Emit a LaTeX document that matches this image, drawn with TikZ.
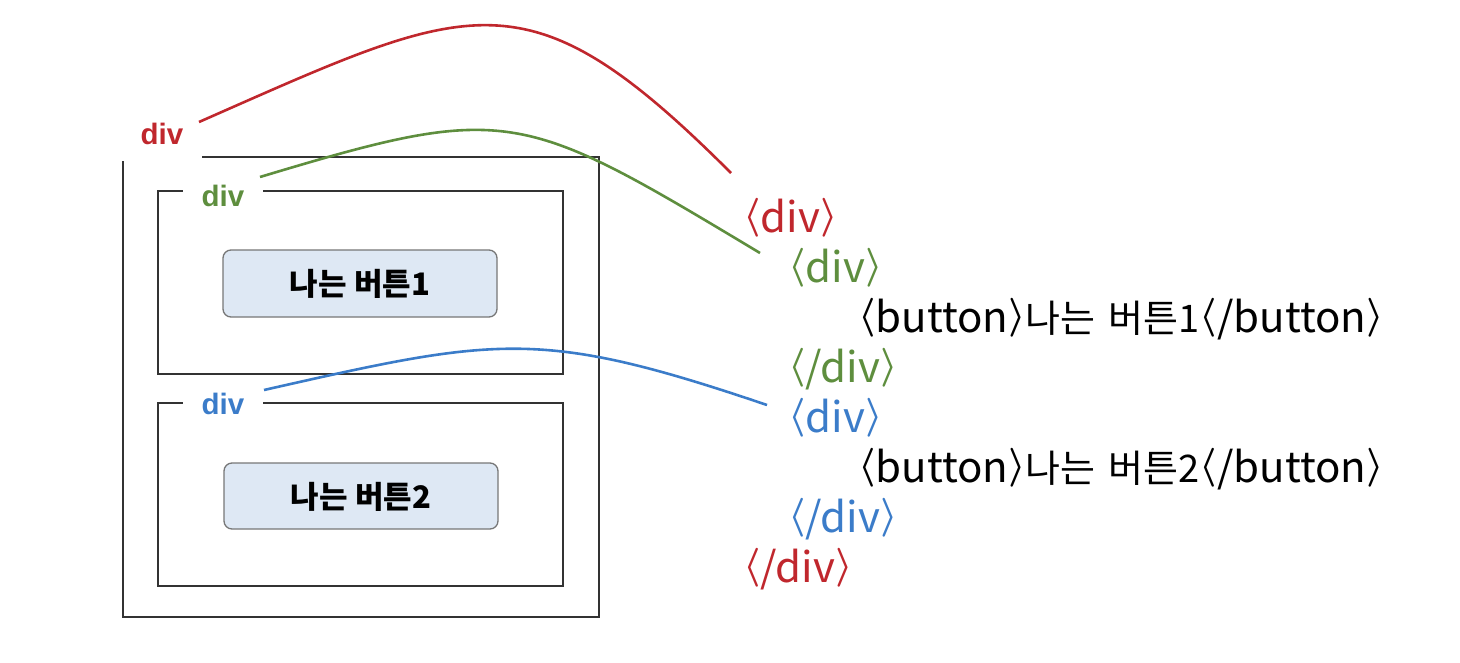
\documentclass[tikz,border=0pt]{standalone}
\usepackage{fontspec}
\usepackage{graphicx}
\setmainfont{Noto Sans CJK KR}
\newfontfamily\labfont{Liberation Sans}
\newfontfamily\krfont{Noto Sans CJK KR}
\newcommand{\myla}{\raisebox{4.75pt}{\resizebox*{17.5pt}{39pt}{\boldmath$\langle$}}}
\newcommand{\myra}{\raisebox{4.75pt}{\resizebox*{17.5pt}{39pt}{\boldmath$\rangle$}}}
\newcommand{\kt}[1]{{\fontsize{38}{41}\selectfont #1}}
\definecolor{cred}{HTML}{C0272D}
\definecolor{cgreen}{HTML}{5E8E3E}
\definecolor{cblue}{HTML}{3B7CC9}
\definecolor{bfill}{HTML}{DEE8F4}
\definecolor{bline}{HTML}{777777}
\definecolor{boxline}{HTML}{333333}
\begin{document}
\begin{tikzpicture}[x=1pt,y=-1pt,
  boxedge/.style={draw=boxline,line width=1.4pt},
  btnbox/.style={draw=bline,fill=bfill,line width=1.3pt,rounded corners=8pt},
  btntext/.style={font=\krfont\bfseries\fontsize{31}{34}\selectfont,inner sep=0pt},
  divlab/.style={font=\labfont\bfseries\fontsize{29.5}{32}\selectfont,inner sep=0pt},
  codeline/.style={font=\krfont\fontsize{42}{46}\selectfont,inner sep=0pt,anchor=base west},
  link/.style={line width=2.6pt}]
\useasboundingbox (0,0) rectangle (1460,662);
% boxes
\draw[boxedge] (202,157) -- (599,157) -- (599,617) -- (123,617) -- (123,161);
\draw[boxedge] (263,191) -- (563,191) -- (563,374) -- (158,374) -- (158,191) -- (183,191);
\draw[boxedge] (263,403) -- (563,403) -- (563,586) -- (158,586) -- (158,403) -- (183,403);
% buttons
\draw[btnbox] (223,250) rectangle (497,317);
\node[btntext] (b1) at (360,284) {나는 버튼1};
\draw[btnbox] (224,463) rectangle (498,529);
\node[btntext] (b2) at (361,497) {나는 버튼2};
% labels
\node[divlab,text=cred] (lred) at (162,134) {div};
\node[divlab,text=cgreen] (lgreen) at (223,196) {div};
\node[divlab,text=cblue] (lblue) at (223,404) {div};
% code
\node[codeline,text=cred] (c1) at (743,232) {\myla div\myra};
\node[codeline,text=cgreen] (c2) at (788,282) {\myla div\myra};
\node[codeline,text=black] (c3) at (858,332) {\myla button\myra\kt{나는\hspace{13pt}버튼1}\myla/button\myra};
\node[codeline,text=cgreen] (c4) at (788,382) {\myla/div\myra};
\node[codeline,text=cblue] (c5) at (788,432) {\myla div\myra};
\node[codeline,text=black] (c6) at (858,482) {\myla button\myra\kt{나는\hspace{13pt}버튼2}\myla/button\myra};
\node[codeline,text=cblue] (c7) at (788,532) {\myla/div\myra};
\node[codeline,text=cred] (c8) at (743,582) {\myla/div\myra};
% connector ends
\coordinate (rs) at (199,122);
\coordinate (re) at (731,173);
\coordinate (gs) at (260,177);
\coordinate (ge) at (760,253);
\coordinate (bs) at (264,390);
\coordinate (be) at (767,405);
\draw[link,cred] (rs) .. controls (474,1) and (526,-32) .. (re);
\draw[link,cgreen] (gs) .. controls (509,102) and (520,109) .. (ge);
\draw[link,cblue] (bs) .. controls (498,337) and (540,328) .. (be);
\end{tikzpicture}
\end{document}
